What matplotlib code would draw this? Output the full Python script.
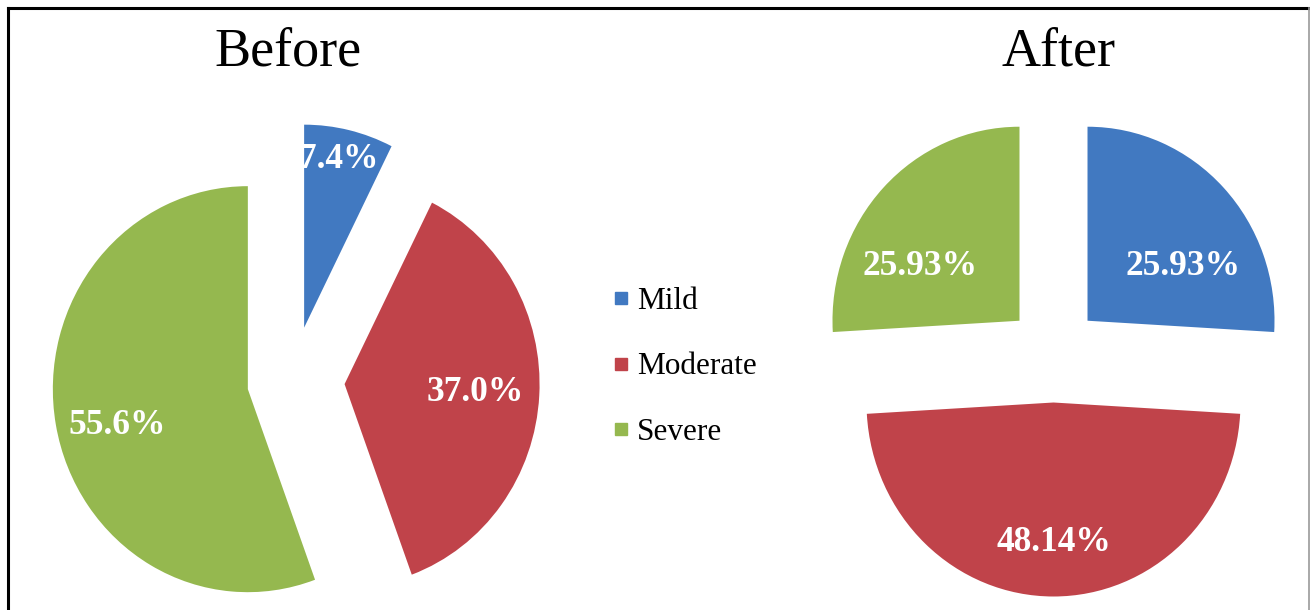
import matplotlib
matplotlib.use("Agg")
import matplotlib.pyplot as plt
from matplotlib.lines import Line2D
import numpy as np

# ---- data ----
categories = ["Mild", "Moderate", "Severe"]
before_values = [7.4, 37.0, 55.6]
after_values = [25.93, 48.14, 25.93]
titles = ["Before", "After"]

# ---- style ----
colors = ["#4179C1", "#C0434A", "#95B84F"]
serif = ["Liberation Serif", "DejaVu Serif"]
W, H = 1310, 610
fig = plt.figure(figsize=(W / 100, H / 100), dpi=100)
fig.patch.set_facecolor("white")

# pie geometry in pixels (center from top-left), radii x/y
pies = [
    dict(values=before_values, cx=292, cy=381, rx=195, ry=203,
         explode=[0.27, 0.27, 0.23], fmt="%1.1f%%",
         lab=[(0.18, 0.83), (0.67, -0.04), (-0.67, -0.18)]),
    dict(values=after_values, cx=1053.5, cy=354, rx=187, ry=194,
         explode=[0.25, 0.25, 0.25], fmt="%1.2f%%",
         lab=[(0.51, 0.28), (0.0, -0.72), (-0.53, 0.28)]),
]

for p in pies:
    ax = fig.add_axes([0, 0, 1, 1])
    wedges, texts, autotexts = ax.pie(
        p["values"], colors=colors, startangle=90, counterclock=False,
        explode=p["explode"], autopct=p["fmt"], radius=1.0,
        wedgeprops=dict(linewidth=0),
        textprops=dict(color="white", fontsize=25.5, fontweight="bold",
                       family=serif))
    for w, t, (dx, dy) in zip(wedges, autotexts, p["lab"]):
        c = w.center
        t.set_position((c[0] + dx, c[1] + dy))
        t.set_ha("center")
        t.set_va("center")
    ax.set_aspect("auto")
    ax.set_xlim(-p["cx"] / p["rx"], (W - p["cx"]) / p["rx"])
    ax.set_ylim(-(H - p["cy"]) / p["ry"], p["cy"] / p["ry"])
    ax.axis("off")

# titles
fig.text(288 / W, 1 - 66 / H, titles[0], fontsize=39, family=serif,
         ha="center", va="baseline", color="black")
fig.text(1059 / W, 1 - 66 / H, titles[1], fontsize=39, family=serif,
         ha="center", va="baseline", color="black")

# legend
handles = [Line2D([], [], marker="s", linestyle="none", markersize=9,
                  markerfacecolor=c, markeredgecolor=c) for c in colors]
leg = fig.legend(handles, categories, loc="center left",
                 bbox_to_anchor=(612 / W, 1 - 367 / H), frameon=False,
                 prop=dict(family=serif, size=22.5), handlelength=0.6,
                 handletextpad=0.2, labelspacing=1.16, borderpad=0,
                 borderaxespad=0)

# border of the picture
fig.add_artist(Line2D([8 / W, 1309 / W], [1 - 8 / H, 1 - 8 / H],
                      transform=fig.transFigure, color="black", lw=2.2))
fig.add_artist(Line2D([8 / W, 8 / W], [0, 1 - 8 / H],
                      transform=fig.transFigure, color="black", lw=2.2))
fig.add_artist(Line2D([1308.5 / W, 1308.5 / W], [0, 1 - 8 / H],
                      transform=fig.transFigure, color="#999999", lw=1.2))

fig.savefig("out.png", dpi=100, facecolor="white")
